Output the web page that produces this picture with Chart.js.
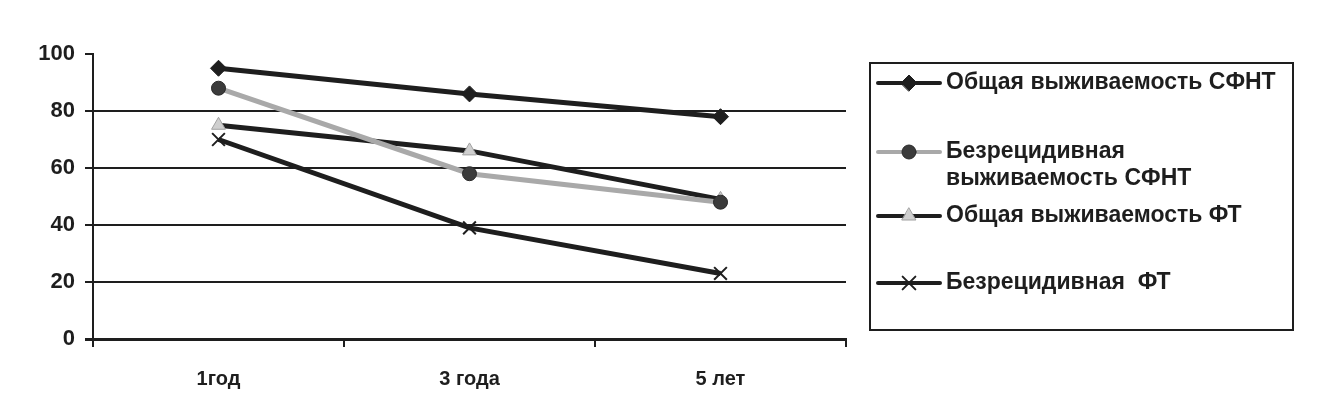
<!DOCTYPE html>
<html><head><meta charset="utf-8">
<script src="https://cdn.jsdelivr.net/npm/chart.js@4.4.1/dist/chart.umd.min.js"></script>
<style>html,body{margin:0;padding:0;background:#fff}#wrap{width:1334px;height:397px;position:relative}</style>
</head><body><div id="wrap"><canvas id="c" width="1334" height="397"></canvas></div>
<script>
const categories = ['1год', '3 года', '5 лет'];
const seriesNames = [
  ['Общая выживаемость СФНТ'],
  ['Безрецидивная', 'выживаемость СФНТ'],
  ['Общая выживаемость ФТ'],
  ['Безрецидивная  ФТ']
];
const osSFNT = [95, 86, 78];
const rfsSFNT = [88, 58, 48];
const osFT = [75, 66, 49];
const rfsFT = [70, 39, 23];
const yTicks = [0, 20, 40, 60, 80, 100];

const INK = '#1e1e1e';
const legendPlugin = {
  id: 'boxLegend',
  afterDraw(chart) {
    const ctx = chart.ctx;
    ctx.save();
    ctx.strokeStyle = INK; ctx.lineWidth = 2;
    ctx.strokeRect(870, 63, 423, 267);
    const rows = [83, 152, 216, 283];
    chart.data.datasets.forEach((ds, i) => {
      const y = rows[i];
      ctx.save();
      ctx.strokeStyle = ds.borderColor; ctx.lineWidth = 4; ctx.lineCap = 'round';
      ctx.beginPath(); ctx.moveTo(878, y); ctx.lineTo(940, y); ctx.stroke();
      ctx.fillStyle = ds.pointBackgroundColor;
      ctx.strokeStyle = ds.pointBorderColor;
      ctx.lineWidth = ds.pointBorderWidth;
      Chart.helpers.drawPoint(ctx, {pointStyle: ds.pointStyle, radius: ds.pointRadius, rotation: 0, borderWidth: ds.pointBorderWidth}, 909, y);
      ctx.restore();
      ctx.fillStyle = INK;
      ctx.font = 'bold 23px "Liberation Sans", Arial, sans-serif';
      ctx.textBaseline = 'middle'; ctx.textAlign = 'left';
      seriesNames[i].forEach((t, k) => ctx.fillText(t, 946, y + k * 27));
    });
    ctx.restore();
  }
};

new Chart(document.getElementById('c'), {
  type: 'line',
  data: {
    labels: categories,
    datasets: [
      {label: seriesNames[0].join(' '), data: osSFNT, borderColor: INK, borderWidth: 5,
       pointStyle: 'rectRot', pointRadius: 8, pointBackgroundColor: INK, pointBorderColor: INK, pointBorderWidth: 1},
      {label: seriesNames[1].join(' '), data: rfsSFNT, borderColor: '#a9a9a9', borderWidth: 5,
       pointStyle: 'circle', pointRadius: 7, pointBackgroundColor: '#3b3b3b', pointBorderColor: '#2a2a2a', pointBorderWidth: 1},
      {label: seriesNames[2].join(' '), data: osFT, borderColor: INK, borderWidth: 5,
       pointStyle: 'triangle', pointRadius: 8, pointBackgroundColor: '#cfcfcf', pointBorderColor: '#a0a0a0', pointBorderWidth: 1},
      {label: seriesNames[3].join(' '), data: rfsFT, borderColor: INK, borderWidth: 5,
       pointStyle: 'crossRot', pointRadius: 9, pointBackgroundColor: INK, pointBorderColor: INK, pointBorderWidth: 2}
    ]
  },
  options: {
    responsive: false, animation: false, devicePixelRatio: 1,
    layout: {padding: {left: 0, right: 488, top: 54, bottom: 0}},
    plugins: {legend: {display: false}, tooltip: {enabled: false}},
    elements: {line: {tension: 0}},
    scales: {
      x: {
        offset: true,
        grid: {offset: true, drawOnChartArea: false, drawTicks: true, tickLength: 8, tickColor: INK, lineWidth: 2},
        border: {color: INK, width: 3},
        ticks: {color: INK, padding: 20, font: {family: '"Liberation Sans", Arial', size: 20, weight: 'bold'}},
        afterFit(s) { s.height = 58; }
      },
      y: {
        min: 0, max: 100,
        afterBuildTicks(s) { s.ticks = yTicks.map(v => ({value: v})); },
        grid: {color: c => (c.tick && c.tick.value === 100) ? 'rgba(0,0,0,0)' : INK,
               lineWidth: c => (c.tick && c.tick.value === 0) ? 3 : 2,
               tickColor: INK, tickLength: 8, drawTicks: true},
        border: {color: INK, width: 2},
        ticks: {color: INK, padding: 10, font: {family: '"Liberation Sans", Arial', size: 22, weight: 'bold'}},
        afterFit(s) { s.width = 93; }
      }
    }
  }
  ,plugins: [legendPlugin]
});
</script></body></html>
